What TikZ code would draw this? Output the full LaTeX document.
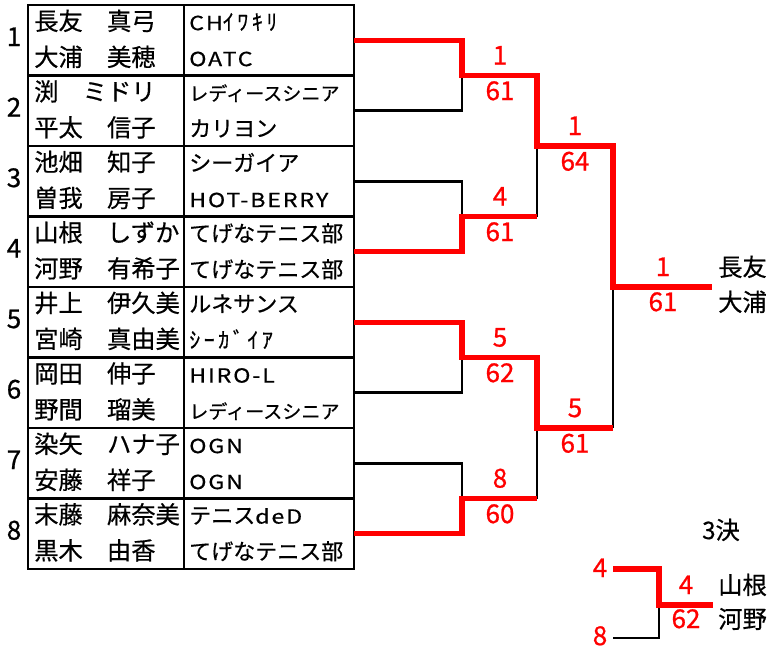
\documentclass[tikz,border=0pt]{standalone}
\usepackage{fontspec}
\setmainfont{Noto Sans CJK JP}[FakeBold=0.5]
\newfontfamily\latf{Noto Sans CJK JP}[FakeBold=0.6, LetterSpace=8]
\newfontfamily\hwf{Noto Sans CJK JP}[FakeBold=0.5, LetterSpace=16]
\newfontfamily\digf{Noto Sans CJK JP}[FakeBold=0.8]
\newcommand\lat[1]{\scalebox{1.2}[1]{\fontsize{14.5}{16}\latf #1}}
\newcommand\hw[1]{{\hwf #1}}
\newcommand\rdsn{{\fontsize{14.3}{16}\selectfont レディースシニア}}
\tikzset{
  tbl/.style={line width=2.2pt, black},
  divline/.style={line width=1.1pt, black},
  blk/.style={line width=2.2pt, black},
  win/.style={line width=3.8pt, red},
  txt/.style={inner sep=0pt, text height=0.88em, text depth=0.12em},
  nm/.style={txt, anchor=west, font=\fontsize{18.2}{20}\selectfont},
  club/.style={txt, anchor=west, font=\fontsize{16.5}{18}\selectfont},
  score/.style={txt, text=red, font=\fontsize{19.5}{20}\digf},
  seed/.style={txt, font=\fontsize{19.5}{20}\digf},
}
\begin{document}
\begin{tikzpicture}[x=0.75pt,y=-0.75pt]
\path[use as bounding box] (0,0) rectangle (779,654);
% table
\draw[divline] (184,5) -- (184,569);
\foreach \k in {1,...,7} { \draw[tbl] (28,5+70.5*\k) -- (354,5+70.5*\k); }
\draw[tbl] (28,5) rectangle (354,569);
% entries
\foreach \k/\a/\b/\c/\d in {
  0/長友　真弓/大浦　美穂/\lat{CH}\hw{ｲﾜｷﾘ}/\lat{OATC},
  1/渕　ミドリ/平太　信子/\rdsn/カリヨン,
  2/池畑　知子/曽我　房子/シーガイア/\lat{HOT-BERRY},
  3/山根　しずか/河野　有希子/てげなテニス部/てげなテニス部,
  4/井上　伊久美/宮崎　真由美/ルネサンス/\hw{ｼｰｶﾞｲｱ},
  5/岡田　伸子/野間　瑠美/\lat{HIRO-L}/\rdsn,
  6/染矢　ハナ子/安藤　祥子/\lat{OGN}/\lat{OGN},
  7/末藤　麻奈美/黒木　由香/テニス\lat{deD}/てげなテニス部} {
  \pgfmathtruncatemacro\s{\k+1}
  \node[seed] (seed\s) at (14,41+70.5*\k) {\s};
  \node[nm] (na\s) at (34,25+70.5*\k) {\a};
  \node[nm] (nb\s) at (34,61+70.5*\k) {\b};
  \node[club] (ca\s) at (189,25+70.5*\k) {\c};
  \node[club] (cb\s) at (189,61+70.5*\k) {\d};
  \coordinate (p\s) at (354,40.25+70.5*\k);
}
% bracket coordinates
\coordinate (m1) at (462,75.5);  \coordinate (m2) at (462,216.5);
\coordinate (m3) at (462,357.5); \coordinate (m4) at (462,498.5);
\coordinate (s1) at (537,75.5);  \coordinate (s2) at (537,216.5);
\coordinate (s3) at (537,357.5); \coordinate (s4) at (537,498.5);
\coordinate (t1) at (537,146);   \coordinate (t2) at (537,428);
\coordinate (u1) at (613,146);   \coordinate (u2) at (613,428);
\coordinate (f) at (613,287);    \coordinate (w) at (712,287);
% losers
\draw[blk] (p2) -| (m1);
\draw[blk] (p3) -| (m2);
\draw[blk] (p6) -| (m3);
\draw[blk] (p7) -| (m4);
\draw[blk] (s2) -- (t1);
\draw[blk] (s4) -- (t2);
\draw[blk] (u2) -- (f);
% winners
\draw[win] (p1) -| (m1) -- (s1) -- (t1) -- (u1) -- (f) -- (w);
\draw[win] (p4) -| (m2) -- (s2);
\draw[win] (p5) -| (m3) -- (s3) -- (t2) -- (u2);
\draw[win] (p8) -| (m4) -- (s4);
% scores
\node[score] (r1a) at (500,59.5) {1};   \node[score] (r1b) at (500,95) {61};
\node[score] (r2a) at (500,200.5) {4};  \node[score] (r2b) at (500,236) {61};
\node[score] (r3a) at (500,341.5) {5};  \node[score] (r3b) at (500,377) {62};
\node[score] (r4a) at (500,482.5) {8};  \node[score] (r4b) at (500,518) {60};
\node[score] (q1a) at (575,130) {1};    \node[score] (q1b) at (575,165.5) {64};
\node[score] (q2a) at (575,412) {5};    \node[score] (q2b) at (575,447.5) {61};
\node[score] (fa) at (663,271) {1};     \node[score] (fb) at (663,306) {61};
\node[nm] (w1) at (718,271) {長友};
\node[nm] (w2) at (718,306) {大浦};
% third place
\node[nm, anchor=center] (third) at (721,534) {3決};
\node[score] (t4) at (600,572) {4};
\node[score] (t8) at (600,640) {8};
\coordinate (a4) at (613,569);
\coordinate (a8) at (613,638);
\coordinate (b) at (659,605);
\coordinate (c) at (713,605);
\draw[blk] (a8) -| (b);
\draw[win] (a4) -| (b) -- (c);
\node[score] (ts1) at (686,589) {4};
\node[score] (ts2) at (686,623) {62};
\node[nm] (y1) at (718,589) {山根};
\node[nm] (y2) at (718,623) {河野};
\end{tikzpicture}
\end{document}
